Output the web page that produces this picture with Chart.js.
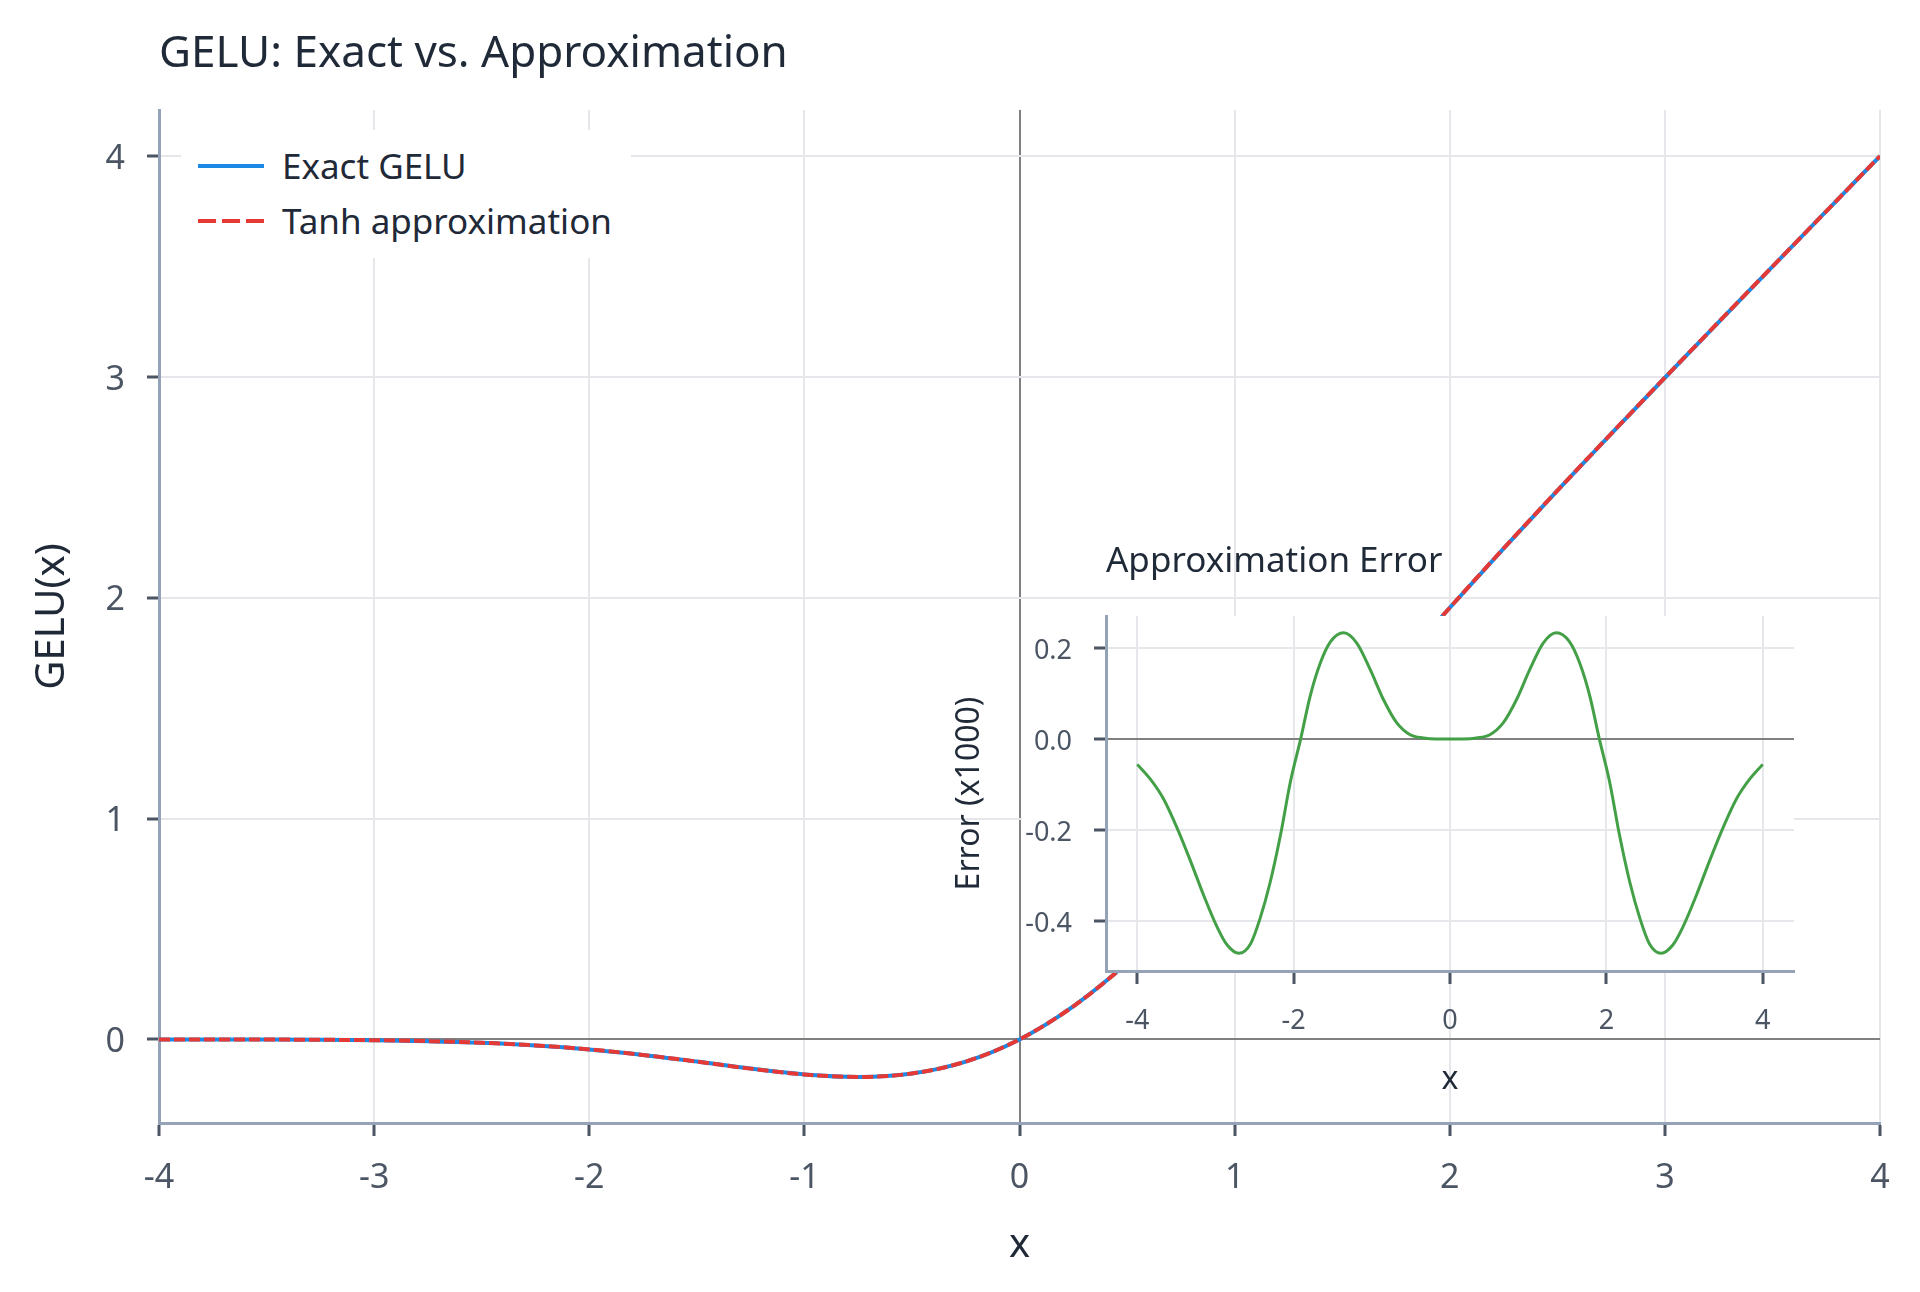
<!DOCTYPE html>
<html>
<head>
<meta charset="utf-8">
<title>GELU: Exact vs. Approximation</title>
<script src="https://cdn.jsdelivr.net/npm/chart.js@4.4.1/dist/chart.umd.min.js"></script>
<style>
  html, body { margin: 0; padding: 0; background: #fff; }
  #page { position: relative; width: 1920px; height: 1292px; overflow: hidden; font-family: "Noto Sans", sans-serif; }
  #mainChart { position: absolute; left: 0; top: 0; }
  #insetBox { position: absolute; left: 940px; top: 530px; width: 890px; height: 580px; }
  .label { position: absolute; color: #1f2937; white-space: nowrap; line-height: 1; }
  #mainTitle { left: 159px; top: 28px; font-size: 44px; }
  #insetTitle { left: 1106px; top: 541px; font-size: 35px; }
  #legend { position: absolute; left: 181px; top: 130px; width: 450px; height: 128px; background: #fff; }
  #legend .sample { position: absolute; left: 17px; width: 66px; height: 20px; }
  #legend .text { position: absolute; left: 101px; font-size: 35px; line-height: 1; color: #1f2937; white-space: nowrap; }
</style>
</head>
<body>
<div id="page">
  <canvas id="mainChart" width="1920" height="1292"></canvas>
  <div id="legend"></div>
  <div class="label" id="mainTitle">GELU: Exact vs. Approximation</div>
  <div id="insetBox"><canvas id="insetChart" width="890" height="580"></canvas></div>
  <div class="label" id="insetTitle">Approximation Error</div>
</div>
<script>
// ---------- data ----------
const xs = [-4, -3.75, -3.5, -3.25, -3, -2.75, -2.5, -2.25, -2, -1.75, -1.5, -1.25, -1, -0.75, -0.5, -0.25,
  0, 0.25, 0.5, 0.75, 1, 1.25, 1.5, 1.75, 2, 2.25, 2.5, 2.75, 3, 3.25, 3.5, 3.75, 4];

const exactGelu = [-0.0001, -0.0003, -0.0008, -0.0019, -0.0040, -0.0082, -0.0155, -0.0275, -0.0455, -0.0701,
  -0.1002, -0.1321, -0.1587, -0.1700, -0.1543, -0.1003, 0, 0.1497, 0.3457, 0.5800, 0.8413, 1.1179, 1.3998,
  1.6799, 1.9545, 2.2225, 2.4845, 2.7418, 2.9960, 3.2481, 3.4992, 3.7497, 3.9999];

const tanhApprox = [-0.0001, -0.0002, -0.0006, -0.0016, -0.0036, -0.0077, -0.0151, -0.0272, -0.0454, -0.0702,
  -0.1004, -0.1323, -0.1588, -0.1701, -0.1543, -0.1003, 0, 0.1497, 0.3457, 0.5799, 0.8412, 1.1177, 1.3996,
  1.6798, 1.9546, 2.2228, 2.4849, 2.7423, 2.9964, 3.2484, 3.4994, 3.7498, 3.9999];

const errX = [-4.00, -3.83, -3.66, -3.49, -3.32, -3.15, -2.98, -2.85, -2.70, -2.55, -2.43, -2.30, -2.17, -2.04,
  -1.91, -1.79, -1.66, -1.53, -1.36, -1.19, -1.02, -0.85, -0.68, -0.51, -0.34, -0.17, 0,
  0.17, 0.34, 0.51, 0.68, 0.85, 1.02, 1.19, 1.36, 1.53, 1.66, 1.79, 1.91, 2.04, 2.17, 2.30, 2.43, 2.55,
  2.70, 2.85, 2.98, 3.15, 3.32, 3.49, 3.66, 3.83, 4.00];

const errScaled = [-0.056, -0.089, -0.133, -0.196, -0.268, -0.344, -0.413, -0.453, -0.471, -0.450, -0.395, -0.315,
  -0.213, -0.093, 0.000, 0.093, 0.166, 0.213, 0.233, 0.210, 0.152, 0.086, 0.035, 0.009, 0.002, 0.000, 0.000,
  0.000, 0.002, 0.009, 0.035, 0.086, 0.152, 0.210, 0.233, 0.213, 0.166, 0.093, 0.000, -0.093, -0.213, -0.315,
  -0.395, -0.450, -0.471, -0.453, -0.413, -0.344, -0.268, -0.196, -0.133, -0.089, -0.056];

const seriesNames = ["Exact GELU", "Tanh approximation"];
const seriesColors = ["#1e88e5", "#e53935"];

// ---------- styling ----------
const gridGray = "#e5e7eb";
const zeroGray = "#808080";
const axisBlue = "#94a3b8";
const tickDark = "#4b5563";
const textDark = "#1f2937";

Chart.defaults.font.family = '"Noto Sans", sans-serif';

function pts(xv, yv) {
  return xv.map((x, i) => ({ x: x, y: yv[i] }));
}

function isZero(c) {
  return c.tick && Math.abs(c.tick.value) < 1e-9;
}

// ================= MAIN CHART =================
new Chart(document.getElementById("mainChart"), {
  type: "line",
  data: {
    datasets: [
      {
        label: seriesNames[0],
        data: pts(xs, exactGelu),
        borderColor: seriesColors[0],
        borderWidth: 4,
        pointRadius: 0,
        cubicInterpolationMode: "monotone",
        order: 2
      },
      {
        label: seriesNames[1],
        data: pts(xs, tanhApprox),
        borderColor: seriesColors[1],
        borderWidth: 4,
        borderDash: [11, 4],
        pointRadius: 0,
        cubicInterpolationMode: "monotone",
        order: 1
      }
    ]
  },
  options: {
    responsive: false,
    animation: false,
    devicePixelRatio: 1,
    layout: { padding: { top: 110, right: 40, bottom: 0, left: 0 } },
    plugins: { legend: { display: false }, tooltip: { enabled: false } },
    scales: {
      x: {
        type: "linear",
        min: -4,
        max: 4,
        afterFit: s => { s.height = 169; },
        ticks: { stepSize: 1, includeBounds: false, color: tickDark, font: { size: 34 }, padding: 22 },
        grid: { color: c => isZero(c) ? zeroGray : gridGray, lineWidth: 2, tickColor: tickDark, tickLength: 13, tickWidth: 3 },
        border: { color: axisBlue, width: 3 },
        title: { display: true, text: "x", color: textDark, font: { size: 40 }, padding: { top: 0, bottom: 22 } }
      },
      y: {
        type: "linear",
        min: -0.3785,
        max: 4.2084,
        afterFit: s => { s.width = 159; },
        ticks: { stepSize: 1, includeBounds: false, color: tickDark, font: { size: 34 }, padding: 22, labelOffset: 3 },
        grid: { color: c => isZero(c) ? zeroGray : gridGray, lineWidth: 2, tickColor: tickDark, tickLength: 12, tickWidth: 3 },
        border: { color: axisBlue, width: 3 },
        title: { display: true, text: "GELU(x)", color: textDark, font: { size: 40 }, padding: { top: 29, bottom: 0 } }
      }
    }
  }
});

// ================= LEGEND (top-left box) =================
const legend = document.getElementById("legend");
seriesNames.forEach((name, i) => {
  const rowTop = 26 + i * 55;
  const dash = i === 1 ? ' stroke-dasharray="18 6"' : "";
  legend.insertAdjacentHTML("beforeend",
    `<svg class="sample" style="top:${rowTop}px" viewBox="0 0 66 20">
       <line x1="0" y1="10" x2="66" y2="10" stroke="${seriesColors[i]}" stroke-width="4"${dash}/>
     </svg>
     <div class="text" style="top:${rowTop - 8}px">${name}</div>`);
});

// ================= INSET: APPROXIMATION ERROR =================
const insetBackdrop = {
  id: "insetBackdrop",
  beforeDraw(chart) {
    const { ctx, chartArea } = chart;
    ctx.save();
    ctx.fillStyle = "#ffffff";
    ctx.fillRect(82, chartArea.top, chartArea.right - 82, chartArea.bottom - chartArea.top);
    ctx.restore();
  }
};

new Chart(document.getElementById("insetChart"), {
  type: "line",
  data: {
    datasets: [{
      label: "Error (x1000)",
      data: pts(errX, errScaled),
      borderColor: "#43a047",
      borderWidth: 3,
      pointRadius: 0,
      cubicInterpolationMode: "monotone"
    }]
  },
  options: {
    responsive: false,
    animation: false,
    devicePixelRatio: 1,
    layout: { padding: { top: 86, right: 36, bottom: 0, left: 0 } },
    plugins: { legend: { display: false }, tooltip: { enabled: false } },
    scales: {
      x: {
        type: "linear",
        min: -4.4,
        max: 4.4,
        afterFit: s => { s.height = 139; },
        ticks: { stepSize: 2, includeBounds: false, color: tickDark, font: { size: 27 }, padding: 21 },
        grid: { color: gridGray, lineWidth: 2, tickColor: tickDark, tickLength: 13, tickWidth: 3 },
        border: { color: axisBlue, width: 3 },
        title: { display: true, text: "x", color: textDark, font: { size: 32 }, padding: { top: 0, bottom: 11 } }
      },
      y: {
        type: "linear",
        min: -0.51,
        max: 0.27,
        afterFit: s => { s.width = 166; },
        ticks: {
          stepSize: 0.2,
          includeBounds: false,
          color: tickDark,
          font: { size: 27 },
          padding: 22,
          labelOffset: 3,
          callback: v => (Math.abs(v) < 1e-9 ? 0 : v).toFixed(1)
        },
        grid: { color: c => isZero(c) ? zeroGray : gridGray, lineWidth: 2, tickColor: tickDark, tickLength: 12, tickWidth: 3 },
        border: { color: axisBlue, width: 3 },
        title: { display: true, text: "Error (x1000)", color: textDark, font: { size: 32 }, padding: { top: 11, bottom: 0 } }
      }
    }
  },
  plugins: [insetBackdrop]
});
</script>
</body>
</html>
